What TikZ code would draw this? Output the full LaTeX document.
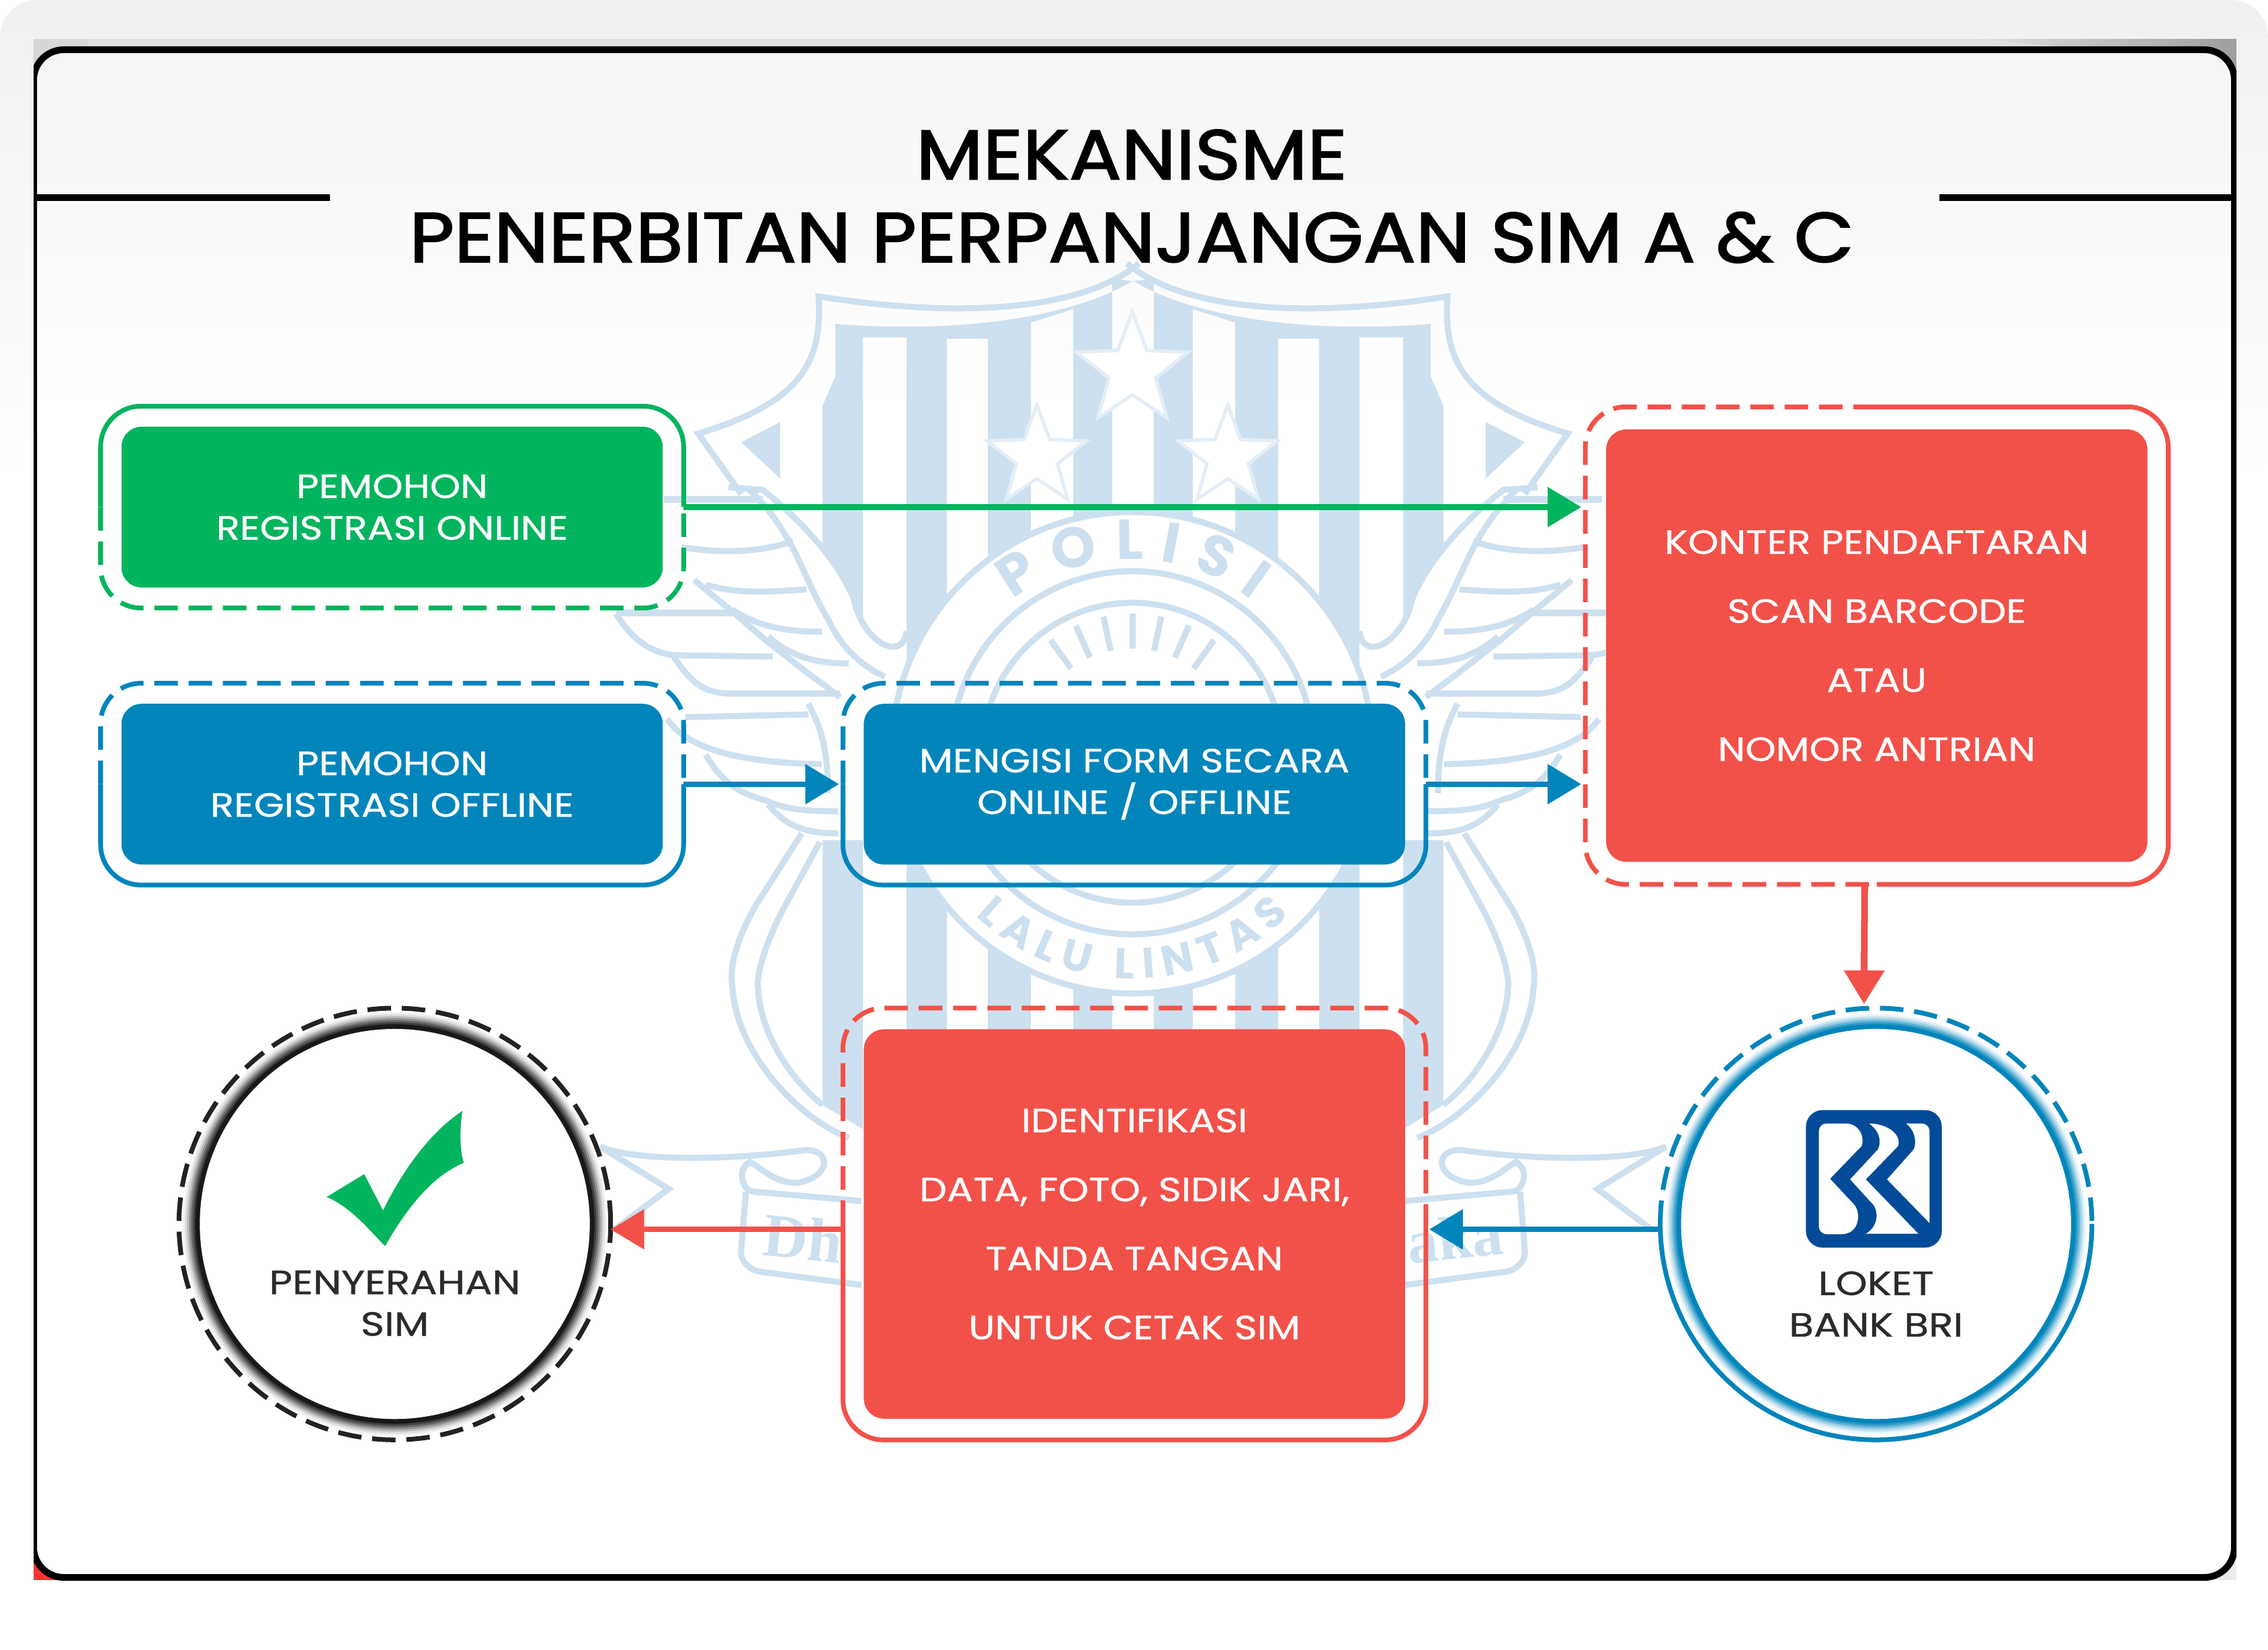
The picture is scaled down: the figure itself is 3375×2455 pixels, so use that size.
\documentclass[tikz,border=0pt]{standalone}
\usepackage{fontspec}
\setmainfont{Poppins}
\newfontfamily\headfont[FakeBold=2,FakeStretch=1.105]{Poppins}
\newfontfamily\boxfont[FakeBold=0.7,FakeStretch=1.16]{Poppins}
\newfontfamily\labelfont[FakeBold=0.7,FakeStretch=1.2]{Poppins}
\newfontfamily\wmserif{Liberation Serif}
\usetikzlibrary{positioning,arrows.meta,decorations.text,shapes.geometric}

\definecolor{regGreen}{HTML}{03B45E}
\definecolor{regBlue}{HTML}{0285BB}
\definecolor{regRed}{HTML}{F25149}
\definecolor{logoBlue}{HTML}{034B98}
\definecolor{wm}{HTML}{CDE0EF}
\definecolor{wmlight}{HTML}{E4EEF7}
\definecolor{labelDark}{HTML}{2B2B2B}

% one half of the crest behind the boxes, used twice
\newcommand{\crestHalf}{
  \fill[wm] (1685,418) .. controls (1610,465) and (1450,498) .. (1243,482) -- (1243,560) -- (1224,604) -- (1224,1644) -- (1284,1680) -- (1284,502) -- (1349,502) -- (1349,1700) -- (1409,1700) -- (1409,504) -- (1470,504) -- (1470,1700) -- (1534,1700) -- (1534,480) -- (1597,460) -- (1597,1700) -- (1655,1700) -- (1655,415) -- cycle;
  \fill[wm] (1103,658) -- (1161,628) -- (1161,712) -- cycle;
  \fill[white] (1103,735) -- (1135,729) .. controls (1199,779) and (1256,841) .. (1288,930) .. controls (1300,985) and (1345,985) .. (1349,939) -- (1349,1250) -- (1224,1250) -- (1000,1100) -- (900,900) -- cycle;
  \draw[wmline] (1695,392) .. controls (1600,470) and (1400,470) .. (1218,441) .. controls (1225,540) and (1190,600) .. (1039,645) -- (1103,735);
  \draw[wmline] (1084,725) -- (1135,729) .. controls (1199,779) and (1250,841) .. (1270,890) .. controls (1285,960) and (1345,985) .. (1349,939);
  \draw[wmline] (1116,729) .. controls (1186,800) and (1190,850) .. (1233,923) .. controls (1250,960) and (1280,990) .. (1317,1007);
  \draw[wmline] (988,743) -- (1135,743);
  \draw[wmline] (1014,814) .. controls (1080,825) and (1140,820) .. (1180,805);
  \draw[wmline] (1033,863) -- (1090,910) -- (1140,953) -- (1200,1000) -- (1250,1037);
  \draw[wmline] (1050,870) .. controls (1100,885) and (1150,880) .. (1200,877);
  \draw[wmline] (917,912) -- (1090,912);
  \draw[wmline] (1090,907) .. controls (1130,935) and (1180,940) .. (1223,940);
  \draw[wmline] (917,913) .. controls (945,960) and (980,975) .. (1010,975) -- (1150,977);
  \draw[wmline] (1143,947) .. controls (1180,980) and (1220,987) .. (1263,987);
  \draw[wmline] (1000,973) .. controls (1030,1020) and (1050,1030) .. (1083,1032) -- (1250,1032);
  \draw[wmline] (1020,1067) -- (1203,1063);
  \draw[wmline] (993,1070) .. controls (1020,1110) and (1090,1135) .. (1223,1137);
  \draw[wmline] (1050,1123) .. controls (1075,1165) and (1100,1180) .. (1137,1190) .. controls (1170,1205) and (1200,1207) .. (1247,1207);
  \draw[wmline] (1143,1197) .. controls (1170,1230) and (1200,1240) .. (1247,1240);
  \draw[wmline] (1203,1047) .. controls (1220,1080) and (1232,1110) .. (1232,1180);
  \draw[wmline] (1193,1240) -- (1123,1350) .. controls (1095,1400) and (1085,1440) .. (1090,1470) .. controls (1095,1560) and (1180,1660) .. (1263,1693);
  \draw[wmline] (1220,1253) -- (1167,1350) .. controls (1140,1400) and (1125,1450) .. (1128,1470) .. controls (1130,1530) and (1170,1600) .. (1224,1644);
  \draw[wmline] (893,1706) .. controls (950,1730) and (1100,1725) .. (1199,1711) .. controls (1235,1710) and (1240,1750) .. (1186,1760) .. controls (1150,1760) and (1130,1735) .. (1116,1729) .. controls (1095,1740) and (1105,1773) .. (1122,1773) -- (1282,1787);
  \draw[wmline] (893,1706) -- (995,1769) -- (912,1831);
  \draw[wmline] (1110,1773) -- (1103,1858) .. controls (1100,1880) and (1120,1890) .. (1130,1892) -- (1282,1912);
}

\begin{document}
\begin{tikzpicture}
[x=0.01cm,y=-0.01cm,
 wmline/.style={draw=wm,line width=.09cm},
 wmstar/.style={star,star points=5,star point ratio=2.4,fill=white,draw=wmlight,line width=.05cm,inner sep=0mm,outer sep=0mm},
 fillbox/.style={rectangle,rounded corners=.3cm,minimum width=8.05cm,minimum height=2.39cm,inner sep=0mm,outer sep=0mm,text=white,align=center,font=\boxfont\fontsize{14.2}{17.6}\selectfont},
 widebox/.style={fillbox,font=\boxfont\fontsize{14.2}{29.2}\selectfont},
 framebox/.style={rectangle,minimum width=8.67cm,minimum height=3cm,inner sep=0mm,outer sep=0mm},
 ringnode/.style={circle,inner sep=0mm,outer sep=0mm},
 label/.style={inner sep=0mm,outer sep=0mm,text=labelDark,align=center,font=\labelfont\fontsize{14.2}{17.6}\selectfont},
 halfline/.style={line width=.07cm,rounded corners=.6cm},
 halfdash/.style={halfline,dash pattern=on .35cm off .16cm},
 flow/.style={line width=.08cm,-{Triangle[length=.5cm,width=.58cm]}},
 rule/.style={line width=.105cm,black}]
\useasboundingbox (0,0) rectangle (3375,2455);

% card and the frame
\shade[top color=black!6,bottom color=white,rounded corners=.55cm] (0,720) -- (0,0) -- (3375,0) -- (3375,720) -- cycle;
\fill[black!13] (50,58) rectangle (3328,80);
\fill[black!16] (50,58) rectangle (130,150);
\shade[left color=black!13,right color=black!38] (2950,58) -- (3328,58) -- (3328,180) -- (3290,74) -- (3110,74) -- cycle;
\fill[black!8] (3260,2290) rectangle (3328,2351);
\fill[red!80!white] (50,2290) rectangle (120,2351);
\fill[white,rounded corners=.45cm] (50,74) rectangle (3325,2347);
\shade[top color=black!4,bottom color=white,rounded corners=.45cm] (50,620) -- (50,74) -- (3325,74) -- (3325,620) -- cycle;
\begin{scope}
\clip (50,58) rectangle (3328,2351);
\draw[line width=.1cm,black,rounded corners=.45cm] (50,74) rectangle (3325,2347);
\end{scope}

% crest
\crestHalf
\begin{scope}[xscale=-1,xshift=-33.7cm]
\crestHalf
\end{scope}
\node[wmstar,minimum size=1.75cm] (starTop) at (1685,551) {};
\node[wmstar,minimum size=1.55cm] (starLeft) at (1543,680) {};
\node[wmstar,minimum size=1.55cm] (starRight) at (1827,680) {};
\draw[wmline,fill=white] (1685,1120) circle (3.58cm);
\draw[wmline] (1685,1120) circle (2.7cm);
\draw[wmline] (1685,1120) circle (2.23cm);
\draw[wmline] (1685,1120) ++(90:1.55cm) -- ++(90:.52cm);
\draw[wmline] (1685,1120) ++(78:1.55cm) -- ++(78:.52cm);
\draw[wmline] (1685,1120) ++(102:1.55cm) -- ++(102:.52cm);
\draw[wmline] (1685,1120) ++(66:1.55cm) -- ++(66:.52cm);
\draw[wmline] (1685,1120) ++(114:1.55cm) -- ++(114:.52cm);
\draw[wmline] (1685,1120) ++(54:1.55cm) -- ++(54:.52cm);
\draw[wmline] (1685,1120) ++(126:1.55cm) -- ++(126:.52cm);
\path[decorate,decoration={text along path,text align={fit to path},text={|\fontsize{24}{24}\selectfont\bfseries\color{wm}|POLISI}}] (1685,1120) ++(128:2.88cm) arc (128:52:2.88cm);
\path[decorate,decoration={text along path,text align={fit to path},text={|\fontsize{18}{18}\selectfont\bfseries\color{wm}|LALU LINTAS}}] (1685,1120) ++(226:3.36cm) arc (226:314:3.36cm);
\node[text=wm,inner sep=0mm,font=\wmserif\bfseries\fontsize{26}{26}\selectfont,rotate=-6] (ribbonLeft) at (1195,1842) {Dh};
\node[text=wm,inner sep=0mm,font=\wmserif\bfseries\fontsize{26}{26}\selectfont,rotate=6] (ribbonRight) at (2165,1842) {aka};

% title
\draw[rule] (50,294) -- (491,294);
\draw[rule] (2886,294) -- (3325,294);
\node[inner sep=0mm,outer sep=0mm,align=center,font=\headfont\fontsize{29.7}{35}\selectfont] (title) at (1684,292) {MEKANISME\\PENERBITAN PERPANJANGAN SIM A \& C};

% boxes
\node[fillbox,fill=regGreen] (regOnline) at (583.5,754.5) {PEMOHON\\REGISTRASI ONLINE};
\node[fillbox,fill=regBlue] (regOffline) [on grid,below=4.12cm of regOnline] {PEMOHON\\REGISTRASI OFFLINE};
\node[fillbox,fill=regBlue] (formIsi) [on grid,right=11.04cm of regOffline] {MENGISI FORM SECARA\\ONLINE / OFFLINE};
\node[widebox,fill=regRed,minimum height=6.43cm] (konter) [on grid,above right=2.06cm and 11.04cm of formIsi] {KONTER PENDAFTARAN\\SCAN BARCODE\\ATAU\\NOMOR ANTRIAN};
\node[widebox,fill=regRed,minimum height=5.79cm] (identitas) [on grid,below=6.54cm of formIsi] {IDENTIFIKASI\\DATA, FOTO, SIDIK JARI,\\TANDA TANGAN\\UNTUK CETAK SIM};

\node[framebox] (regOnlineOut) at (regOnline) {};
\node[framebox] (regOfflineOut) at (regOffline) {};
\node[framebox] (formIsiOut) at (formIsi) {};
\node[framebox,minimum height=7.1cm] (konterOut) at (konter) {};
\node[framebox,minimum height=6.42cm] (identitasOut) at (identitas) {};

\draw[halfline,regGreen] (regOnlineOut.west) |- (regOnlineOut.north) -| (regOnlineOut.east);
\draw[halfdash,regGreen] (regOnlineOut.west) |- (regOnlineOut.south) -| (regOnlineOut.east);
\draw[halfdash,regBlue] (regOfflineOut.west) |- (regOfflineOut.north) -| (regOfflineOut.east);
\draw[halfline,regBlue] (regOfflineOut.west) |- (regOfflineOut.south) -| (regOfflineOut.east);
\draw[halfdash,regBlue] (formIsiOut.west) |- (formIsiOut.north) -| (formIsiOut.east);
\draw[halfline,regBlue] (formIsiOut.west) |- (formIsiOut.south) -| (formIsiOut.east);
\draw[halfdash,regRed] (konterOut.north) -| (konterOut.west) |- (konterOut.south);
\draw[halfline,regRed] (konterOut.north) -| (konterOut.east) |- (konterOut.south);
\draw[halfdash,regRed] (identitasOut.west) |- (identitasOut.north) -| (identitasOut.east);
\draw[halfline,regRed] (identitasOut.west) |- (identitasOut.south) -| (identitasOut.east);

% circles, the rings fade outwards
\node[ringnode,minimum size=6.42cm] (bankOut) [on grid,right=11.03cm of identitas] {};
\foreach \rad/\tint in {3.12/8,3.09/22,3.06/40,3.03/62,3/82,2.97/100}
  \fill[regBlue!\tint!white] (bankOut) circle (\rad cm);
\node[ringnode,fill=white,minimum size=5.8cm] (bank) at (bankOut) {};
\draw[halfdash,regBlue] (bankOut.west) arc (180:0:3.21cm);
\draw[line width=.07cm,regBlue] (bankOut.west) arc (180:360:3.21cm);

\node[ringnode,minimum size=6.42cm,draw=labelDark!80!black,line width=.07cm,dash pattern=on .35cm off .16cm] (simOut) [on grid,left=11cm of identitas] {};
\foreach \rad/\tint in {3.15/6,3.12/16,3.09/32,3.06/52,3.03/72,3/90}
  \fill[labelDark!\tint!white] (simOut) circle (\rad cm);
\fill[black!90] (simOut) circle (2.97cm);
\node[ringnode,fill=white,minimum size=5.8cm] (sim) at (simOut) {};

\fill[regGreen] (486,1781) -- (542,1747) -- (570,1801) .. controls (600,1740) and (640,1685) .. (688,1653) .. controls (684,1680) and (684,1710) .. (690,1730) .. controls (645,1750) and (610,1790) .. (573,1854) .. controls (545,1825) and (520,1795) .. (486,1781) -- cycle;
\node[label] (simLabel) [on grid,below=1.18cm of simOut] {PENYERAHAN\\SIM};

% logo
\begin{scope}[shift={(2660,1630)},x=0.00333cm,y=-0.00333cm]
\fill[logoBlue,rounded corners=.25cm] (82,65) rectangle (690,680);
\fill[white] (175,125) -- (265,125) .. controls (320,130) and (345,180) .. (332,225) -- (190,372) -- (300,490) .. controls (330,530) and (320,620) .. (240,620) -- (175,620) .. controls (155,620) and (140,605) .. (140,585) -- (140,160) .. controls (140,140) and (155,125) .. (175,125) -- cycle;
\fill[white] (365,125) .. controls (440,125) and (510,170) .. (495,225) -- (350,375) -- (585,618) -- (350,618) .. controls (400,590) and (410,530) .. (385,490) -- (280,375) -- (405,240) .. controls (425,190) and (400,150) .. (365,125) -- cycle;
\fill[white] (530,125) -- (600,125) .. controls (620,125) and (635,140) .. (635,160) -- (635,570) -- (445,375) -- (565,240) .. controls (580,200) and (565,150) .. (530,125) -- cycle;
\end{scope}
\node[label] (bankLabel) [on grid,below=1.19cm of bankOut] {LOKET\\BANK BRI};

% connectors
\draw[flow,regGreen,shorten >=.06cm] (regOnlineOut.east) -- (konterOut.west |- regOnlineOut.east);
\draw[flow,regBlue,shorten >=.06cm] (regOfflineOut.east) -- (formIsiOut.west);
\draw[flow,regBlue,shorten >=.06cm] (formIsiOut.east) -- (konterOut.west |- formIsiOut.east);
\draw[flow,regRed,line width=.1cm,shorten >=.06cm] ([xshift=-.18cm]konterOut.south) -- ([xshift=-.18cm]bankOut.north);
\draw[flow,regBlue,shorten >=.05cm] ([yshift=-.08cm]bankOut.west) -- ([yshift=-.08cm]identitasOut.east);
\draw[flow,regRed] ([yshift=-.08cm]identitasOut.west) -- ([yshift=-.08cm]simOut.east);
\end{tikzpicture}
\end{document}
